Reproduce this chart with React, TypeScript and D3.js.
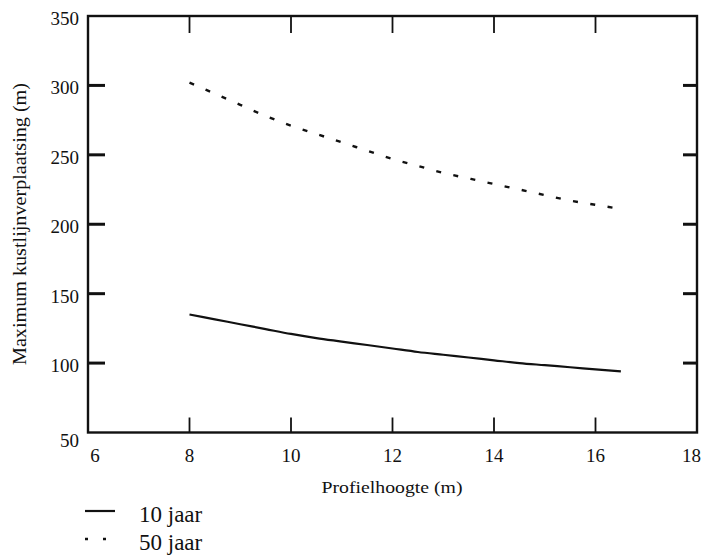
import React from "react";
import * as d3 from "d3";

const profielhoogte = [8, 8.5, 9, 9.5, 10, 10.5, 11, 11.5, 12, 12.5, 13, 13.5, 14, 14.5, 15, 15.5, 16, 16.5];
const jaar10 = [135, 131.5, 128, 124.5, 121, 118, 115.5, 113, 110.5, 108, 106, 104, 102, 100, 98.5, 97, 95.5, 94];
const jaar50 = [302, 294, 286, 278, 271, 265, 259, 253, 247, 242, 237, 233, 229, 225, 221, 217, 214, 211];
const xTicks = [6, 8, 10, 12, 14, 16, 18];
const yTicks = [50, 100, 150, 200, 250, 300, 350];
const legendLabels = ["10 jaar", "50 jaar"];

const W = 702;
const H = 557;
const FONT = "'Liberation Serif', 'DejaVu Serif', serif";
const INK = "#111";

export default function App() {
  const x = d3.scaleLinear().domain([6, 18]).range([88, 697]);
  const y = d3.scaleLinear().domain([50, 350]).range([432.5, 16]);
  const line = d3
    .line<number>()
    .x((_, i) => x(profielhoogte[i]))
    .y((d) => y(d))
    .curve(d3.curveMonotoneX);

  const innerX = xTicks.filter((t) => t > 6 && t < 18);
  const innerY = yTicks.filter((t) => t > 50 && t < 350);

  return (
    <svg
      width={W}
      height={H}
      style={{ position: "absolute", left: 0, top: 0, background: "#fff" }}
      fontFamily={FONT}
    >
      <rect x={0} y={0} width={W} height={H} fill="#fff" />
      {/* frame */}
      <rect
        x={x(6)}
        y={y(350)}
        width={x(18) - x(6)}
        height={y(50) - y(350)}
        fill="none"
        stroke={INK}
        strokeWidth={2.4}
      />
      {/* x ticks bottom & top */}
      {innerX.map((t) => (
        <g key={"xt" + t}>
          <line x1={x(t)} x2={x(t)} y1={y(50)} y2={y(50) - 15} stroke={INK} strokeWidth={1.8} />
          <line x1={x(t)} x2={x(t)} y1={y(350)} y2={y(350) + 17} stroke={INK} strokeWidth={1.8} />
        </g>
      ))}
      {/* y ticks left & right */}
      {innerY.map((t) => (
        <g key={"yt" + t}>
          <line x1={x(6)} x2={x(6) + 17} y1={y(t)} y2={y(t)} stroke={INK} strokeWidth={3} />
          <line x1={x(18)} x2={x(18) - 14} y1={y(t)} y2={y(t)} stroke={INK} strokeWidth={3} />
        </g>
      ))}
      {/* x tick labels */}
      {xTicks.map((t) => (
        <text
          key={"xl" + t}
          x={t === 18 ? 701 : x(t) + (t === 6 ? 7 : 0)}
          y={462}
          textAnchor={t === 18 ? "end" : "middle"}
          fontSize={19}
          fill={INK}
        >
          {t}
        </text>
      ))}
      {/* y tick labels */}
      {yTicks.map((t) => (
        <text
          key={"yl" + t}
          x={79}
          y={y(t) + (t === 50 ? 14 : 9)}
          textAnchor="end"
          fontSize={19}
          fill={INK}
        >
          {t}
        </text>
      ))}
      {/* axis titles */}
      <text x={392} y={493} textAnchor="middle" fontSize={17} fill={INK} textLength={141} lengthAdjust="spacingAndGlyphs">
        Profielhoogte  (m)
      </text>
      <text
        transform={`translate(26, ${224}) rotate(-90)`}
        textAnchor="middle"
        fontSize={18}
        fill={INK}
        textLength={282}
        lengthAdjust="spacingAndGlyphs"
      >
        Maximum kustlijnverplaatsing (m)
      </text>
      {/* series */}
      <path d={line(jaar10) || ""} fill="none" stroke={INK} strokeWidth={2.2} />
      <path
        d={line(jaar50) || ""}
        fill="none"
        stroke={INK}
        strokeWidth={2.4}
        strokeDasharray="5 12.5"
      />
      {/* legend */}
      <line x1={85} x2={115} y1={511} y2={511} stroke={INK} strokeWidth={2.2} />
      <line x1={85} x2={115} y1={539} y2={539} stroke={INK} strokeWidth={2.4} strokeDasharray="3 15" />
      <text x={139} y={522} fontSize={23} fill={INK}>
        {legendLabels[0]}
      </text>
      <text x={139} y={550} fontSize={23} fill={INK}>
        {legendLabels[1]}
      </text>
    </svg>
  );
}
